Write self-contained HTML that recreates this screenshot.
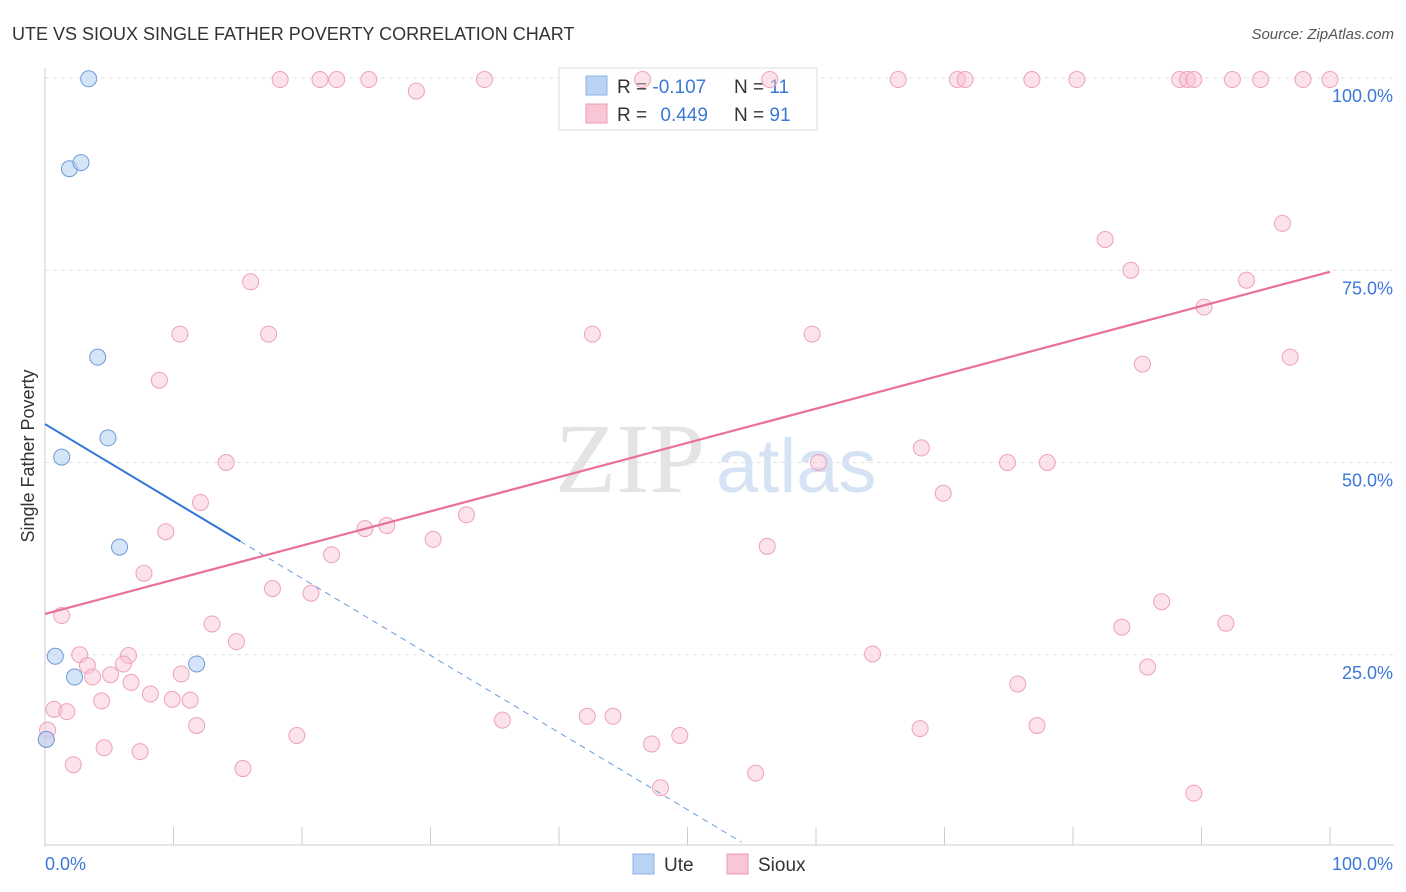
<!DOCTYPE html>
<html><head><meta charset="utf-8"><style>
body{margin:0;background:#fff;font-family:"Liberation Sans",sans-serif;}
#wrap{position:relative;width:1406px;height:892px;overflow:hidden;}
</style></head><body>
<div id="wrap">
<svg id="chart" width="1406" height="892">
<text x="12" y="40" font-size="18" fill="#333">UTE VS SIOUX SINGLE FATHER POVERTY CORRELATION CHART</text>
<text x="1394" y="39" font-size="15" fill="#555" font-style="italic" text-anchor="end">Source: ZipAtlas.com</text>
<text x="555" y="492" font-size="100" fill="#e4e4e4" font-family="Liberation Serif,serif">ZIP</text>
<text x="716" y="492" font-size="76" fill="#d6e3f5">atlas</text>
<text transform="translate(34,456) rotate(-90)" font-size="18" fill="#333" text-anchor="middle">Single Father Poverty</text>
<g id="grid"></g><g id="axes"></g>
<g>
<rect x="559" y="68" width="258" height="62" fill="rgba(255,255,255,0.75)" stroke="#ddd"/>
<rect x="586" y="76" width="21" height="19" fill="#b8d3f3" stroke="#8fb3e0"/>
<rect x="586" y="104" width="21" height="19" fill="#f8c6d4" stroke="#ec9ab2"/>
<text x="617" y="93" font-size="19" fill="#333">R = <tspan fill="#3b78d8">-0.107</tspan></text>
<text x="734" y="93" font-size="19" fill="#333">N = <tspan fill="#3b78d8">11</tspan></text>
<text x="617" y="121" font-size="19" fill="#333">R = <tspan fill="#3b78d8" dx="8">0.449</tspan></text>
<text x="734" y="121" font-size="19" fill="#333">N = <tspan fill="#3b78d8">91</tspan></text>
</g>
<g id="marks"></g>
<g>
<rect x="633" y="854" width="21" height="20" fill="#b8d3f3" stroke="#8fb3e0"/>
<text x="664" y="871" font-size="19" fill="#333">Ute</text>
<rect x="727" y="854" width="21" height="20" fill="#f8c6d4" stroke="#ec9ab2"/>
<text x="758" y="871" font-size="19" fill="#333">Sioux</text>
</g>
</svg>
</div>
<script>
const uteX=[3.4,1.9,2.8,4.1,4.9,1.3,5.8,0.8,2.3,11.8,0.1];
const uteY=[99.9,88.2,89.0,63.7,53.2,50.7,39.0,24.8,22.1,23.8,14.0];
const siouxX=[18.3,21.4,22.7,25.2,34.2,46.5,56.4,66.4,71.0,71.6,76.8,80.3,88.3,88.9,89.4,92.4,94.6,97.9,100,28.9,
96.3,82.5,84.5,16.0,93.5,90.2,10.5,17.4,42.6,59.7,96.9,85.4,8.9,68.2,14.1,60.2,74.9,78.0,69.9,12.1,32.8,9.4,26.6,24.9,30.2,56.2,22.3,7.7,17.7,20.7,
86.9,1.3,13.0,91.9,83.8,14.9,2.7,6.5,64.4,3.3,6.1,10.6,85.8,3.7,5.1,6.7,75.7,8.2,9.9,11.3,4.4,0.7,1.7,35.6,42.2,44.2,11.8,68.1,77.2,19.6,49.4,4.6,7.4,47.2,2.2,15.4,55.3,47.9,89.4,0.2,0.1];
const siouxY=[99.8,99.8,99.8,99.8,99.8,99.8,99.8,99.8,99.8,99.8,99.8,99.8,99.8,99.8,99.8,99.8,99.8,99.8,99.8,98.3,
81.1,79.0,75.0,73.5,73.7,70.2,66.7,66.7,66.7,66.7,63.7,62.8,60.7,51.9,50.0,50.0,50.0,50.0,46.0,44.8,43.2,41.0,41.8,41.4,40.0,39.1,38.0,35.6,33.6,33.0,
31.9,30.1,29.0,29.1,28.6,26.7,25.0,24.9,25.1,23.6,23.8,22.5,23.4,22.1,22.4,21.4,21.2,19.9,19.2,19.1,19.0,17.9,17.6,16.5,17.0,17.0,15.8,15.4,15.8,14.5,14.5,12.9,12.4,13.4,10.7,10.2,9.6,7.7,7.0,15.2,14.0];
const X=v=>45+v*12.85, Y=v=>847-v*7.69;
const NS='http://www.w3.org/2000/svg';
function mk(tag,attrs,parent){const e=document.createElementNS(NS,tag);for(const k in attrs)e.setAttribute(k,attrs[k]);parent.appendChild(e);return e;}
const grid=document.getElementById('grid'),axes=document.getElementById('axes'),marks=document.getElementById('marks');
const yTicks=[25,50,75,100];
yTicks.forEach(t=>{
 const l=mk('line',{x1:45,x2:1394,y1:Y(t),y2:Y(t),stroke:'#e2e2e2','stroke-dasharray':'4,4'},grid);
 
 
 const tx=mk('text',{x:1393,y:Y(t)+24,'font-size':18,fill:'#3b78d8','text-anchor':'end'},axes);tx.textContent=t.toFixed(1)+'%';
 
 
});
mk('line',{x1:45,x2:45,y1:68,y2:847,stroke:'#ccc'},axes);
mk('line',{x1:45,x2:1394,y1:845,y2:845,stroke:'#ccc'},axes);
for(let i=1;i<=10;i++){mk('line',{x1:X(i*10),x2:X(i*10),y1:827,y2:845,stroke:'#ccc'},axes);}
const xl=mk('text',{x:45,y:870,'font-size':18,fill:'#3b78d8'},axes);xl.textContent='0.0%';

const xr=mk('text',{x:1393,y:870,'font-size':18,fill:'#3b78d8','text-anchor':'end'},axes);xr.textContent='100.0%';

siouxX.forEach((x,i)=>{const c=mk('circle',{cx:X(x),cy:Y(siouxY[i]),r:8,fill:'rgba(248,190,208,0.45)',stroke:'#eea2b8','stroke-width':1},marks);
 });
uteX.forEach((x,i)=>{const c=mk('circle',{cx:X(x),cy:Y(uteY[i]),r:8,fill:'rgba(184,211,243,0.6)',stroke:'#6d9bd8','stroke-width':1},marks);
 });
const uA=55.0,uB=-1.003,sA=30.3,sB=0.445;
const u1=mk('line',{x1:X(0),y1:Y(uA),x2:X(15.2),y2:Y(uA+uB*15.2),stroke:'#2f74d6','stroke-width':2},marks);

const u2=mk('line',{x1:X(15.2),y1:Y(uA+uB*15.2),x2:X(54.2),y2:Y(uA+uB*54.2),stroke:'#6d9bd8','stroke-width':1,'stroke-dasharray':'6,5'},marks);

const s1=mk('line',{x1:X(0),y1:Y(sA),x2:X(100),y2:Y(sA+sB*100),stroke:'#e8709a','stroke-width':2.2},marks);

</script>
</body></html>
